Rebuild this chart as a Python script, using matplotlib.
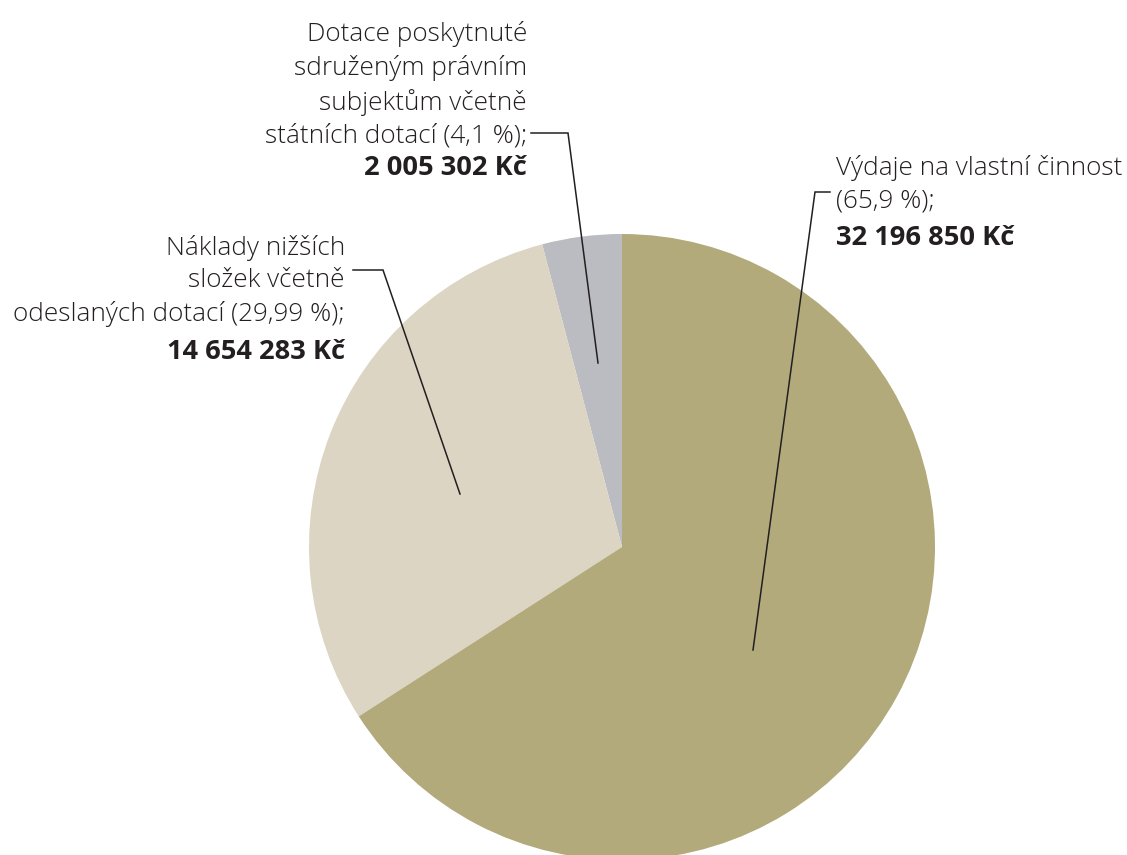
import matplotlib
matplotlib.use("Agg")
import matplotlib.pyplot as plt

# data (counterclockwise from 12 o'clock)
labels = ["Dotace poskytnuté sdruženým právním subjektům včetně státních dotací",
          "Náklady nižších složek včetně odeslaných dotací",
          "Výdaje na vlastní činnost"]
values = [2005302, 14654283, 32196850]
shares = ["4,1 %", "29,99 %", "65,9 %"]
amounts = ["2 005 302 Kč", "14 654 283 Kč", "32 196 850 Kč"]
colors = ["#bbbcc1", "#ddd5c3", "#b3aa7c"]

W, H = 1127, 855
CX, CY, R = 622, 547, 313
TXT = "#231f20"

plt.rcParams['font.family'] = ['Open Sans', 'DejaVu Sans']

fig = plt.figure(figsize=(W / 100, H / 100), dpi=100)
ax = fig.add_axes([(CX - R) / W, (H - CY - R) / H, 2 * R / W, 2 * R / H])
ax.pie(values, colors=colors, startangle=90, counterclock=True,
       wedgeprops=dict(linewidth=0))
ax.set_xlim(-1, 1)
ax.set_ylim(-1, 1)
ax.set_aspect('equal')
ax.axis('off')


def d(px, py):
    # pixel position in the picture -> pie data coords
    return (px - CX) / R, (CY - py) / R


def leader(pts):
    xs, ys = zip(*[d(*p) for p in pts])
    ax.plot(xs, ys, color=TXT, lw=1.1, clip_on=False, solid_joinstyle='miter')


def txt(px, py, s, ha, bold=False):
    x, y = d(px, py)
    ax.text(x, y, s, ha=ha, va='center', fontsize=19.6 if bold else 18.8,
            color=TXT, fontweight='bold' if bold else 'light',
            linespacing=1.4, clip_on=False)


# Dotace
txt(527, 85, "Dotace poskytnuté\nsdruženým právním\nsubjektům včetně\nstátních dotací (" + shares[0] + ");", 'right')
txt(527, 168, amounts[0], 'right', bold=True)
leader([(531, 133), (568, 133), (598, 363)])

# Náklady
txt(345, 281, "Náklady nižších\nsložek včetně\nodeslaných dotací (" + shares[1] + ");", 'right')
txt(345, 352, amounts[1], 'right', bold=True)
leader([(353, 270), (383, 270), (460, 494)])

# Výdaje
txt(836, 184, "Výdaje na vlastní činnost\n(" + shares[2] + ");", 'left')
txt(836, 238, amounts[2], 'left', bold=True)
leader([(830, 192), (815, 192), (753, 650)])

fig.savefig("out.png", dpi=100)
